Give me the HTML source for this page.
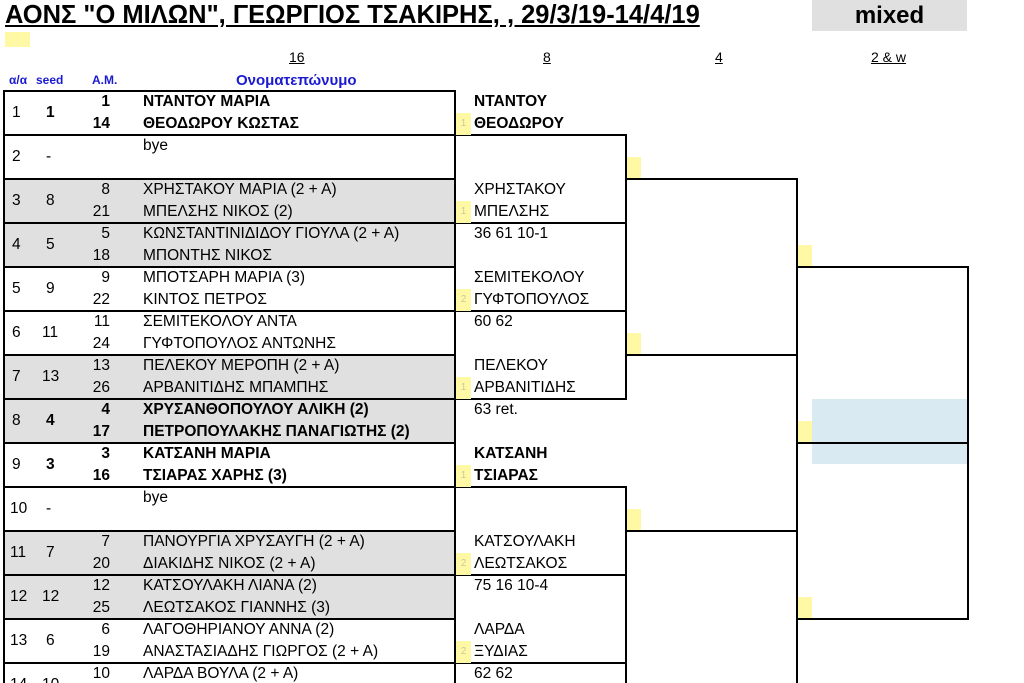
<!DOCTYPE html>
<html style="width:1024px;height:683px;overflow:hidden"><head><meta charset="utf-8"><style>
html,body{margin:0;width:1024px;height:683px;overflow:hidden}
body{background:#fff;position:relative;font-family:"Liberation Sans",Arial,sans-serif;color:#000}
div{position:absolute;white-space:nowrap}
.t{font-size:15.5px;line-height:22px}
.b{font-weight:bold}
.box{border:2px solid #000;box-sizing:border-box}
.g{background:#e0e0e0}
.y{background:#fff9a6}
.tag{width:15px;height:22px;background:#fff9a6;color:#c8c8a0;font-size:10px;line-height:22px;text-align:center}
.h{font-size:14px;text-decoration:underline}
.hd{font-size:12px;font-weight:bold;color:#1a1ad0}
.c{text-align:center}
.r{text-align:right}
</style></head><body>
<div style="left:5px;top:0;font-size:25.5px;font-weight:bold;text-decoration:underline;line-height:30px">ΑΟΝΣ "Ο ΜΙΛΩΝ", ΓΕΩΡΓΙΟΣ ΤΣΑΚΙΡΗΣ, , 29/3/19-14/4/19</div>
<div style="left:812px;top:0;width:155px;height:31px;background:#e0e0e0;font-size:24px;font-weight:bold;text-align:center;line-height:31px">mixed</div>
<div class="y" style="left:5px;top:32px;width:25px;height:15px"></div>
<div class="h" style="left:289px;top:49px">16</div>
<div class="h" style="left:543px;top:49px">8</div>
<div class="h" style="left:715px;top:49px">4</div>
<div class="h" style="left:871px;top:49px">2 &amp; w</div>
<div class="hd" style="left:9px;top:73px">α/α</div>
<div class="hd" style="left:36px;top:73px">seed</div>
<div class="hd" style="left:92px;top:73px">A.M.</div>
<div class="hd" style="left:236px;top:72px;font-size:15px">Ονοματεπώνυμο</div>

<div class="box" style="left:3px;top:90px;width:453px;height:46px"></div>
<div class="t" style="left:12px;top:102px">1</div><div class="t b" style="left:46px;top:102px">1</div>
<div class="t b r" style="left:80px;top:91px;width:30px">1</div><div class="t b" style="left:143px;top:91px">ΝΤΑΝΤΟΥ ΜΑΡΙΑ</div>
<div class="t b r" style="left:80px;top:113px;width:30px">14</div><div class="t b" style="left:143px;top:113px">ΘΕΟΔΩΡΟΥ ΚΩΣΤΑΣ</div>

<div class="box" style="left:3px;top:134px;width:453px;height:46px"></div>
<div class="t" style="left:12px;top:146px">2</div><div class="t" style="left:46px;top:146px">-</div>
<div class="t" style="left:143px;top:135px">bye</div>

<div class="box g" style="left:3px;top:178px;width:453px;height:46px"></div>
<div class="t" style="left:12px;top:190px">3</div><div class="t" style="left:46px;top:190px">8</div>
<div class="t r" style="left:80px;top:179px;width:30px">8</div><div class="t" style="left:143px;top:179px">ΧΡΗΣΤΑΚΟΥ ΜΑΡΙΑ (2 + Α)</div>
<div class="t r" style="left:80px;top:201px;width:30px">21</div><div class="t" style="left:143px;top:201px">ΜΠΕΛΣΗΣ ΝΙΚΟΣ (2)</div>

<div class="box g" style="left:3px;top:222px;width:453px;height:46px"></div>
<div class="t" style="left:12px;top:234px">4</div><div class="t" style="left:46px;top:234px">5</div>
<div class="t r" style="left:80px;top:223px;width:30px">5</div><div class="t" style="left:143px;top:223px">ΚΩΝΣΤΑΝΤΙΝΙΔΙΔΟΥ ΓΙΟΥΛΑ (2 + Α)</div>
<div class="t r" style="left:80px;top:245px;width:30px">18</div><div class="t" style="left:143px;top:245px">ΜΠΟΝΤΗΣ ΝΙΚΟΣ</div>

<div class="box" style="left:3px;top:266px;width:453px;height:46px"></div>
<div class="t" style="left:12px;top:278px">5</div><div class="t" style="left:46px;top:278px">9</div>
<div class="t r" style="left:80px;top:267px;width:30px">9</div><div class="t" style="left:143px;top:267px">ΜΠΟΤΣΑΡΗ ΜΑΡΙΑ (3)</div>
<div class="t r" style="left:80px;top:289px;width:30px">22</div><div class="t" style="left:143px;top:289px">ΚΙΝΤΟΣ ΠΕΤΡΟΣ</div>

<div class="box" style="left:3px;top:310px;width:453px;height:46px"></div>
<div class="t" style="left:12px;top:322px">6</div><div class="t" style="left:42px;top:322px">11</div>
<div class="t r" style="left:80px;top:311px;width:30px">11</div><div class="t" style="left:143px;top:311px">ΣΕΜΙΤΕΚΟΛΟΥ ΑΝΤΑ</div>
<div class="t r" style="left:80px;top:333px;width:30px">24</div><div class="t" style="left:143px;top:333px">ΓΥΦΤΟΠΟΥΛΟΣ ΑΝΤΩΝΗΣ</div>

<div class="box g" style="left:3px;top:354px;width:453px;height:46px"></div>
<div class="t" style="left:12px;top:366px">7</div><div class="t" style="left:42px;top:366px">13</div>
<div class="t r" style="left:80px;top:355px;width:30px">13</div><div class="t" style="left:143px;top:355px">ΠΕΛΕΚΟΥ ΜΕΡΟΠΗ (2 + Α)</div>
<div class="t r" style="left:80px;top:377px;width:30px">26</div><div class="t" style="left:143px;top:377px">ΑΡΒΑΝΙΤΙΔΗΣ ΜΠΑΜΠΗΣ</div>

<div class="box g" style="left:3px;top:398px;width:453px;height:46px"></div>
<div class="t" style="left:12px;top:410px">8</div><div class="t b" style="left:46px;top:410px">4</div>
<div class="t b r" style="left:80px;top:399px;width:30px">4</div><div class="t b" style="left:143px;top:399px">ΧΡΥΣΑΝΘΟΠΟΥΛΟΥ ΑΛΙΚΗ (2)</div>
<div class="t b r" style="left:80px;top:421px;width:30px">17</div><div class="t b" style="left:143px;top:421px">ΠΕΤΡΟΠΟΥΛΑΚΗΣ ΠΑΝΑΓΙΩΤΗΣ (2)</div>

<div class="box" style="left:3px;top:442px;width:453px;height:46px"></div>
<div class="t" style="left:12px;top:454px">9</div><div class="t b" style="left:46px;top:454px">3</div>
<div class="t b r" style="left:80px;top:443px;width:30px">3</div><div class="t b" style="left:143px;top:443px">ΚΑΤΣΑΝΗ ΜΑΡΙΑ</div>
<div class="t b r" style="left:80px;top:465px;width:30px">16</div><div class="t b" style="left:143px;top:465px">ΤΣΙΑΡΑΣ ΧΑΡΗΣ (3)</div>

<div class="box" style="left:3px;top:486px;width:453px;height:46px"></div>
<div class="t" style="left:10px;top:498px">10</div><div class="t" style="left:46px;top:498px">-</div>
<div class="t" style="left:143px;top:487px">bye</div>

<div class="box g" style="left:3px;top:530px;width:453px;height:46px"></div>
<div class="t" style="left:10px;top:542px">11</div><div class="t" style="left:46px;top:542px">7</div>
<div class="t r" style="left:80px;top:531px;width:30px">7</div><div class="t" style="left:143px;top:531px">ΠΑΝΟΥΡΓΙΑ ΧΡΥΣΑΥΓΗ (2 + Α)</div>
<div class="t r" style="left:80px;top:553px;width:30px">20</div><div class="t" style="left:143px;top:553px">ΔΙΑΚΙΔΗΣ ΝΙΚΟΣ (2 + Α)</div>

<div class="box g" style="left:3px;top:574px;width:453px;height:46px"></div>
<div class="t" style="left:10px;top:586px">12</div><div class="t" style="left:42px;top:586px">12</div>
<div class="t r" style="left:80px;top:575px;width:30px">12</div><div class="t" style="left:143px;top:575px">ΚΑΤΣΟΥΛΑΚΗ ΛΙΑΝΑ (2)</div>
<div class="t r" style="left:80px;top:597px;width:30px">25</div><div class="t" style="left:143px;top:597px">ΛΕΩΤΣΑΚΟΣ ΓΙΑΝΝΗΣ (3)</div>

<div class="box" style="left:3px;top:618px;width:453px;height:46px"></div>
<div class="t" style="left:10px;top:630px">13</div><div class="t" style="left:46px;top:630px">6</div>
<div class="t r" style="left:80px;top:619px;width:30px">6</div><div class="t" style="left:143px;top:619px">ΛΑΓΟΘΗΡΙΑΝΟΥ ΑΝΝΑ (2)</div>
<div class="t r" style="left:80px;top:641px;width:30px">19</div><div class="t" style="left:143px;top:641px">ΑΝΑΣΤΑΣΙΑΔΗΣ ΓΙΩΡΓΟΣ (2 + Α)</div>

<div class="box" style="left:3px;top:662px;width:453px;height:46px"></div>
<div class="t" style="left:10px;top:674px">14</div><div class="t" style="left:42px;top:674px">10</div>
<div class="t r" style="left:80px;top:663px;width:30px">10</div><div class="t" style="left:143px;top:663px">ΛΑΡΔΑ ΒΟΥΛΑ (2 + Α)</div>

<div class="box" style="left:454px;top:134px;width:173px;height:90px"></div>
<div class="box" style="left:454px;top:310px;width:173px;height:90px"></div>
<div class="box" style="left:454px;top:486px;width:173px;height:90px"></div>
<div class="box" style="left:454px;top:662px;width:173px;height:21px;border-bottom:none"></div>
<div class="box" style="left:625px;top:178px;width:173px;height:178px"></div>
<div class="box" style="left:625px;top:530px;width:173px;height:153px;border-bottom:none"></div>
<div style="left:812px;top:399px;width:155px;height:65px;background:#d9eaf2"></div>
<div class="box" style="left:796px;top:266px;width:173px;height:354px"></div>
<div style="left:796px;top:442px;width:173px;height:2px;background:#000"></div>

<div class="y" style="left:627px;top:157px;width:14px;height:21px"></div>
<div class="y" style="left:627px;top:333px;width:14px;height:21px"></div>
<div class="y" style="left:627px;top:509px;width:14px;height:21px"></div>
<div class="y" style="left:798px;top:245px;width:14px;height:21px"></div>
<div class="y" style="left:798px;top:597px;width:14px;height:21px"></div>
<div class="y" style="left:798px;top:421px;width:14px;height:21px"></div>

<div class="t b" style="left:474px;top:91px">ΝΤΑΝΤΟΥ</div>
<div class="tag" style="left:456px;top:113px">1</div><div class="t b" style="left:474px;top:113px">ΘΕΟΔΩΡΟΥ</div>
<div class="t" style="left:474px;top:179px">ΧΡΗΣΤΑΚΟΥ</div>
<div class="tag" style="left:456px;top:201px">1</div><div class="t" style="left:474px;top:201px">ΜΠΕΛΣΗΣ</div>
<div class="t" style="left:474px;top:223px">36 61 10-1</div>
<div class="t" style="left:474px;top:267px">ΣΕΜΙΤΕΚΟΛΟΥ</div>
<div class="tag" style="left:456px;top:289px">2</div><div class="t" style="left:474px;top:289px">ΓΥΦΤΟΠΟΥΛΟΣ</div>
<div class="t" style="left:474px;top:311px">60 62</div>
<div class="t" style="left:474px;top:355px">ΠΕΛΕΚΟΥ</div>
<div class="tag" style="left:456px;top:377px">1</div><div class="t" style="left:474px;top:377px">ΑΡΒΑΝΙΤΙΔΗΣ</div>
<div class="t" style="left:474px;top:399px">63 ret.</div>
<div class="t b" style="left:474px;top:443px">ΚΑΤΣΑΝΗ</div>
<div class="tag" style="left:456px;top:465px">1</div><div class="t b" style="left:474px;top:465px">ΤΣΙΑΡΑΣ</div>
<div class="t" style="left:474px;top:531px">ΚΑΤΣΟΥΛΑΚΗ</div>
<div class="tag" style="left:456px;top:553px">2</div><div class="t" style="left:474px;top:553px">ΛΕΩΤΣΑΚΟΣ</div>
<div class="t" style="left:474px;top:575px">75 16 10-4</div>
<div class="t" style="left:474px;top:619px">ΛΑΡΔΑ</div>
<div class="tag" style="left:456px;top:641px">2</div><div class="t" style="left:474px;top:641px">ΞΥΔΙΑΣ</div>
<div class="t" style="left:474px;top:663px">62 62</div>
</body></html>
